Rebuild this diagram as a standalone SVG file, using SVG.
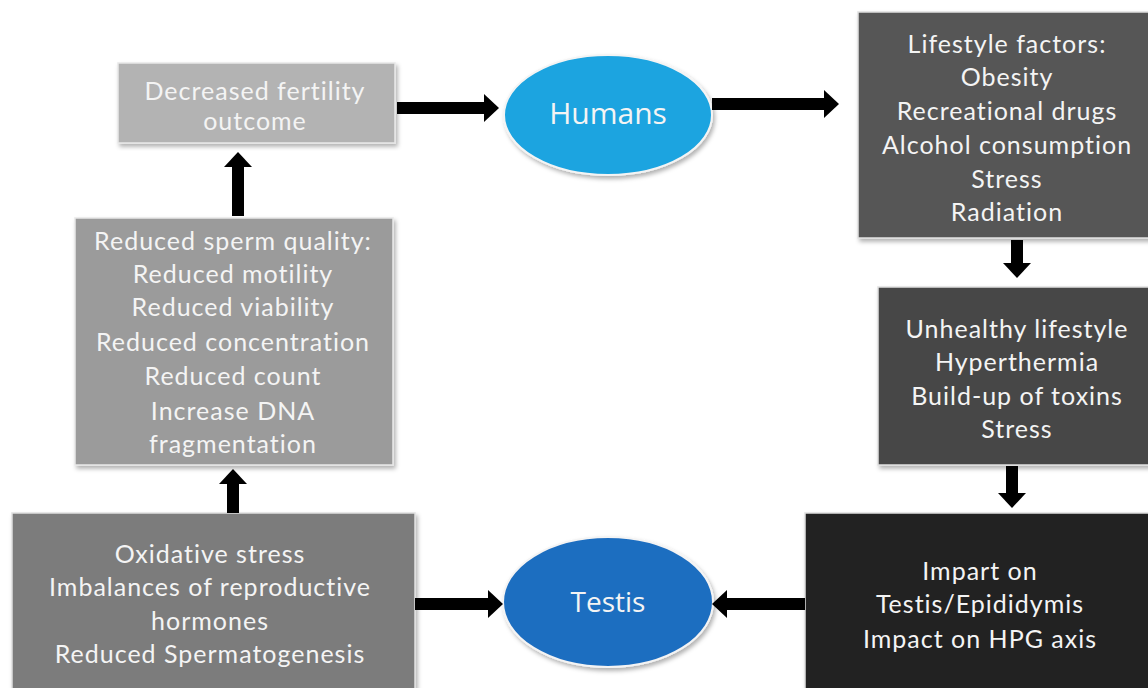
<svg xmlns="http://www.w3.org/2000/svg" width="1148" height="688" viewBox="0 0 1148 688">
<style>
.box text{font-family:Lato,"Open Sans","Liberation Sans",sans-serif;font-size:25px;letter-spacing:1px;fill:#f4f4f4;text-anchor:middle}
.ell text{font-family:"Open Sans","Liberation Sans",sans-serif;font-size:28px;fill:#f4f4f4;text-anchor:middle}
.conn line{stroke:#000;stroke-width:12;marker-end:url(#ah)}
</style>
<defs>
<marker id="ah" markerUnits="userSpaceOnUse" markerWidth="15" markerHeight="28" viewBox="0 0 15 28" refX="0" refY="14" orient="auto"><path d="M0,0 L15,14 L0,28 Z" fill="#000"/></marker>
<filter id="sh" x="-5%" y="-5%" width="112%" height="115%"><feDropShadow dx="2" dy="3" stdDeviation="2" flood-color="#000" flood-opacity="0.3"/></filter>
</defs>
<rect width="1148" height="688" fill="#fff"/>
<g id="decreased" class="box"><rect x="118" y="63" width="277" height="80" fill="#b3b3b3" stroke="#e8e8e8" stroke-width="1.5" filter="url(#sh)"/>
<text x="255" y="100">Decreased fertility</text><text x="255" y="130">outcome</text></g>
<g id="humans" class="ell"><ellipse cx="608" cy="115" rx="104" ry="60" fill="#1ba4e0" stroke="#f4f4f4" stroke-width="2" filter="url(#sh)"/><text x="608" y="124" style="font-size:30px">Humans</text></g>
<g id="lifestyle" class="box"><rect x="858" y="12" width="300" height="226" fill="#575757" stroke="#e0e0e0" stroke-width="1.5" filter="url(#sh)"/>
<text x="1007" y="53">Lifestyle factors:</text><text x="1007" y="86">Obesity</text><text x="1007" y="120">Recreational drugs</text><text x="1007" y="154">Alcohol consumption</text><text x="1007" y="188">Stress</text><text x="1007" y="221">Radiation</text></g>
<g id="unhealthy" class="box"><rect x="878" y="287" width="280" height="178" fill="#474747" stroke="#e0e0e0" stroke-width="1.5" filter="url(#sh)"/>
<text x="1017" y="338">Unhealthy lifestyle</text><text x="1017" y="371">Hyperthermia</text><text x="1017" y="405">Build-up of toxins</text><text x="1017" y="438">Stress</text></g>
<g id="impart" class="box"><rect x="805" y="513" width="353" height="185" fill="#232323" stroke="#e0e0e0" stroke-width="1.5" filter="url(#sh)"/>
<text x="980" y="580">Impart on</text><text x="980" y="613">Testis/Epididymis</text><text x="980" y="648">Impact on HPG axis</text></g>
<g id="testis" class="ell"><ellipse cx="608" cy="602" rx="105" ry="65" fill="#1f6ec0" stroke="#f4f4f4" stroke-width="2" filter="url(#sh)"/><text x="608" y="612">Testis</text></g>
<g id="oxidative" class="box"><rect x="12" y="513" width="403" height="185" fill="#7b7b7b" stroke="#e0e0e0" stroke-width="1.5" filter="url(#sh)"/>
<text x="210" y="563">Oxidative stress</text><text x="210" y="596">Imbalances of reproductive</text><text x="210" y="630">hormones</text><text x="210" y="663">Reduced Spermatogenesis</text></g>
<g id="reduced" class="box"><rect x="75" y="218" width="318" height="247" fill="#9b9b9b" stroke="#e8e8e8" stroke-width="1.5" filter="url(#sh)"/>
<text x="233" y="250">Reduced sperm quality:</text><text x="233" y="283">Reduced motility</text><text x="233" y="316">Reduced viability</text><text x="233" y="351">Reduced concentration</text><text x="233" y="385">Reduced count</text><text x="233" y="420">Increase DNA</text><text x="233" y="453">fragmentation</text></g>
<g id="connectors" class="conn">
<line x1="397" y1="108" x2="484" y2="108"/>
<line x1="712" y1="104" x2="824" y2="104"/>
<line x1="1017" y1="240" x2="1017" y2="263"/>
<line x1="1012" y1="466" x2="1012" y2="493"/>
<line x1="805" y1="604" x2="727" y2="604"/>
<line x1="415" y1="604" x2="488" y2="604"/>
<line x1="233" y1="513" x2="233" y2="484"/>
<line x1="238" y1="216" x2="238" y2="167"/>
</g>
</svg>
